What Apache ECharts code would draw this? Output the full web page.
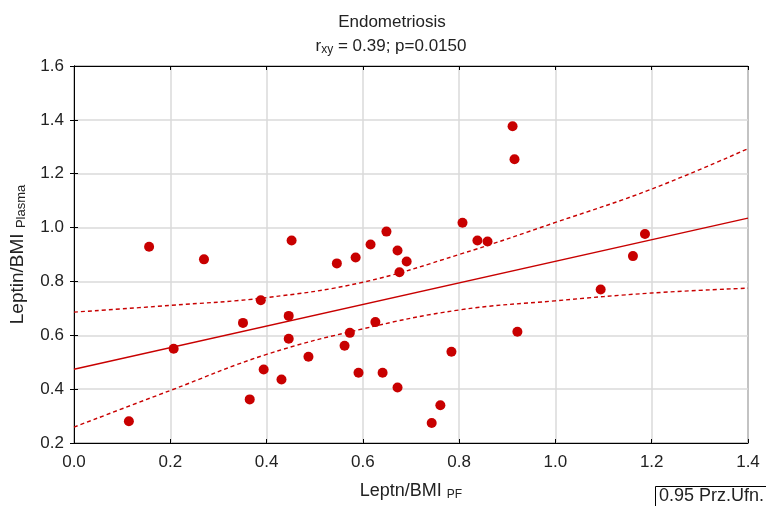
<!DOCTYPE html>
<html>
<head>
<meta charset="utf-8">
<script src="https://cdn.jsdelivr.net/npm/echarts@6/dist/echarts.min.js"></script>
<style>
html,body{margin:0;padding:0;background:#fff;overflow:hidden;}
#chart{width:766px;height:506px;}
</style>
</head>
<body>
<div id="chart"></div>
<script>
// Data
const xValues = [0.114,0.156,0.207,0.270,0.351,0.365,0.388,0.394,0.431,0.446,0.446,0.452,0.487,0.546,0.562,0.573,0.585,0.591,0.616,0.626,0.641,0.649,0.672,0.672,0.676,0.691,0.743,0.761,0.784,0.807,0.838,0.859,0.911,0.915,0.921,1.094,1.161,1.186];
const yValues = [0.281,0.929,0.550,0.882,0.646,0.362,0.730,0.473,0.436,0.672,0.587,0.952,0.520,0.867,0.561,0.609,0.889,0.461,0.937,0.649,0.461,0.985,0.915,0.406,0.834,0.874,0.274,0.340,0.539,1.018,0.952,0.948,1.376,1.254,0.613,0.770,0.894,0.976];
const regX = [0, 1.4];
const regY = [0.474, 1.035];
const bandX = [0, 0.2, 0.4, 0.6, 0.8, 1.0, 1.2, 1.4];
const upperBand = [0.686, 0.711, 0.740, 0.797, 0.900, 1.019, 1.143, 1.293];
const lowerBand = [0.259, 0.395, 0.529, 0.624, 0.694, 0.728, 0.757, 0.775];
const xTicks = ['0.0','0.2','0.4','0.6','0.8','1.0','1.2','1.4'];
const yTicks = ['0.2','0.4','0.6','0.8','1.0','1.2','1.4','1.6'];
const titleText = 'Endometriosis';
const legendText = '0.95 Prz.Ufn.';

const RED = '#c80000';
const FONT = 'Liberation Sans, Arial, sans-serif';
const FS = 17;

const pts = xValues.map((x, i) => [x, yValues[i]]);
const reg = regX.map((x, i) => [x, regY[i]]);
const up = bandX.map((x, i) => [x, upperBand[i]]);
const lo = bandX.map((x, i) => [x, lowerBand[i]]);

const chart = echarts.init(document.getElementById('chart'), null, {renderer: 'canvas', width: 766, height: 506});

const baseX = {
  type: 'value', min: 0, max: 1.4, interval: 0.2,
  axisLine: {show: true, lineStyle: {color: '#000', width: 1}},
  axisTick: {show: true, inside: true, length: 4, lineStyle: {color: '#000'}},
  splitLine: {show: false}
};
const baseY = {
  type: 'value', min: 0.2, max: 1.6, interval: 0.2,
  axisLine: {show: true, lineStyle: {color: '#000', width: 1}},
  axisTick: {show: true, inside: true, length: 4, lineStyle: {color: '#000'}},
  splitLine: {show: false}
};

chart.setOption({
  animation: false,
  backgroundColor: '#fff',
  title: [
    {text: titleText, left: 387, top: 9, textAlign: 'center',
     textStyle: {fontFamily: FONT, fontSize: FS, fontWeight: 'normal', color: '#222'}},
    {text: '{n|r}{s|xy}{n| = 0.39; p=0.0150}', left: 386, top: 31, textAlign: 'center',
     textStyle: {fontFamily: FONT, fontSize: FS, fontWeight: 'normal', color: '#222',
       rich: {
         n: {fontFamily: FONT, fontSize: FS, color: '#222'},
         s: {fontFamily: FONT, fontSize: 12, color: '#222', padding: [8, 0, 0, 0]}
       }}}
  ],
  grid: {left: 73, right: 18, top: 66, bottom: 60, show: true, borderColor: '#000', borderWidth: 1, backgroundColor: 'transparent'},
  xAxis: [
    Object.assign({}, baseX, {
      position: 'bottom',
      name: '{n|Leptn/BMI }{s|PF}', nameLocation: 'middle', nameGap: 39,
      nameTextStyle: {fontFamily: FONT, fontSize: 18, color: '#222',
        rich: {n: {fontFamily: FONT, fontSize: 18, color: '#222'},
               s: {fontFamily: FONT, fontSize: 12, color: '#222', padding: [7, 0, 0, 0]}}},
      axisLabel: {show: true, fontFamily: FONT, fontSize: FS, color: '#222', margin: 11,
        formatter: (v) => xTicks[Math.round(v / 0.2)]},
      splitLine: {show: true, lineStyle: {color: '#dadada', width: 1.5}}
    }),
    Object.assign({}, baseX, {position: 'top', axisLabel: {show: false}})
  ],
  yAxis: [
    Object.assign({}, baseY, {
      position: 'left',
      name: '{n|Leptin/BMI }{s|Plasma}', nameLocation: 'middle', nameGap: 46, nameRotate: 90,
      nameTextStyle: {fontFamily: FONT, fontSize: 19, color: '#222',
        rich: {n: {fontFamily: FONT, fontSize: 19, color: '#222'},
               s: {fontFamily: FONT, fontSize: 13, color: '#222', padding: [8, 0, 0, 0]}}},
      axisLabel: {show: true, fontFamily: FONT, fontSize: FS, color: '#222', margin: 10,
        formatter: (v) => yTicks[Math.round((v - 0.2) / 0.2)]},
      splitLine: {show: true, lineStyle: {color: '#dadada', width: 1.5}}
    }),
    Object.assign({}, baseY, {position: 'right', axisLabel: {show: false}})
  ],
  series: [
    {type: 'line', data: up, smooth: 0.4, symbol: 'none', silent: true,
     lineStyle: {color: RED, width: 1.4, type: [4, 3]}, z: 3},
    {type: 'line', data: lo, smooth: 0.4, symbol: 'none', silent: true,
     lineStyle: {color: RED, width: 1.4, type: [4, 3]}, z: 3},
    {type: 'line', data: reg, symbol: 'none', silent: true,
     lineStyle: {color: RED, width: 1.4}, z: 3},
    {type: 'scatter', data: pts, symbol: 'circle', symbolSize: 10,
     itemStyle: {color: RED, opacity: 1}, z: 4}
  ],
  graphic: [
    {type: 'rect', shape: {x: 655.5, y: 486.5, width: 120, height: 30},
     style: {fill: '#fff', stroke: '#000', lineWidth: 1}},
    {type: 'text', x: 659, y: 487, style: {text: legendText, font: '18px ' + FONT, fill: '#222'}}
  ]
});
</script>
</body>
</html>
